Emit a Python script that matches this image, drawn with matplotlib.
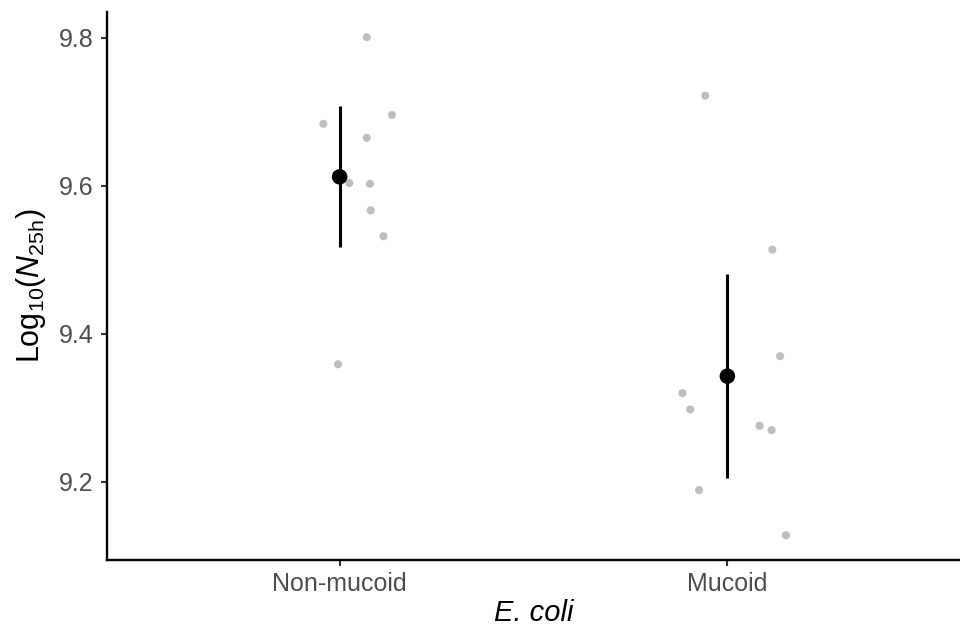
import numpy as np
import matplotlib
matplotlib.use("Agg")
import matplotlib.pyplot as plt

plt.rcParams['font.family'] = ['Liberation Sans', 'DejaVu Sans']
plt.rcParams['mathtext.fontset'] = 'custom'
plt.rcParams['mathtext.rm'] = 'Liberation Sans'
plt.rcParams['mathtext.it'] = 'Liberation Sans:italic'

categories = ["Non-mucoid", "Mucoid"]
nonmucoid_vals = [9.801, 9.696, 9.684, 9.665, 9.604, 9.603, 9.567, 9.532, 9.359]
nonmucoid_jitter = [0.070, 0.135, -0.042, 0.070, 0.025, 0.078, 0.080, 0.113, -0.004]
mucoid_vals = [9.722, 9.514, 9.370, 9.320, 9.298, 9.276, 9.270, 9.189, 9.128]
mucoid_jitter = [-0.057, 0.116, 0.136, -0.116, -0.096, 0.083, 0.114, -0.073, 0.151]
y_ticks = [9.2, 9.4, 9.6, 9.8]
T_CRIT = 2.306  # t(0.975, df=8)

fig = plt.figure(figsize=(9.6, 6.3), dpi=100)
ax = fig.add_axes([107/960, 70/630, 1 - 107/960, (560-12)/630])

groups = [(nonmucoid_vals, nonmucoid_jitter), (mucoid_vals, mucoid_jitter)]
for i, (vals, jit) in enumerate(groups):
    v = np.array(vals)
    ax.scatter(i + np.array(jit), v, s=34, color='#BEBEBE', edgecolors='none', zorder=2)
    m = v.mean()
    ci = T_CRIT * v.std(ddof=1) / np.sqrt(len(v))
    ax.plot([i, i], [m - ci, m + ci], color='black', lw=2.2, zorder=3, solid_capstyle='butt')
    ax.scatter([i], [m], s=125, color='black', edgecolors='none', zorder=4)

ax.set_xlim(-0.6, 1.6)
ax.set_ylim(9.0946, 9.835)
ax.set_xticks([0, 1])
ax.set_xticklabels(categories)
ax.set_yticks(y_ticks)
ax.set_yticklabels([f"{t:.1f}" for t in y_ticks])

for s in ['top', 'right']:
    ax.spines[s].set_visible(False)
for s in ['left', 'bottom']:
    ax.spines[s].set_linewidth(1.7)
    ax.spines[s].set_color('black')
ax.tick_params(axis='both', length=4.5, width=1.5, color='#333333', labelcolor='#4D4D4D',
               labelsize=18)
ax.tick_params(axis='y', pad=5)
ax.tick_params(axis='x', pad=4)

ax.set_ylabel(r'$\mathregular{Log_{10}(}\mathit{N}_{\mathregular{25h}}\mathregular{)}$',
              fontsize=22, labelpad=8)
ax.set_xlabel('E. coli', fontsize=21, style='italic', labelpad=2)

fig.savefig('out.png', dpi=100)
